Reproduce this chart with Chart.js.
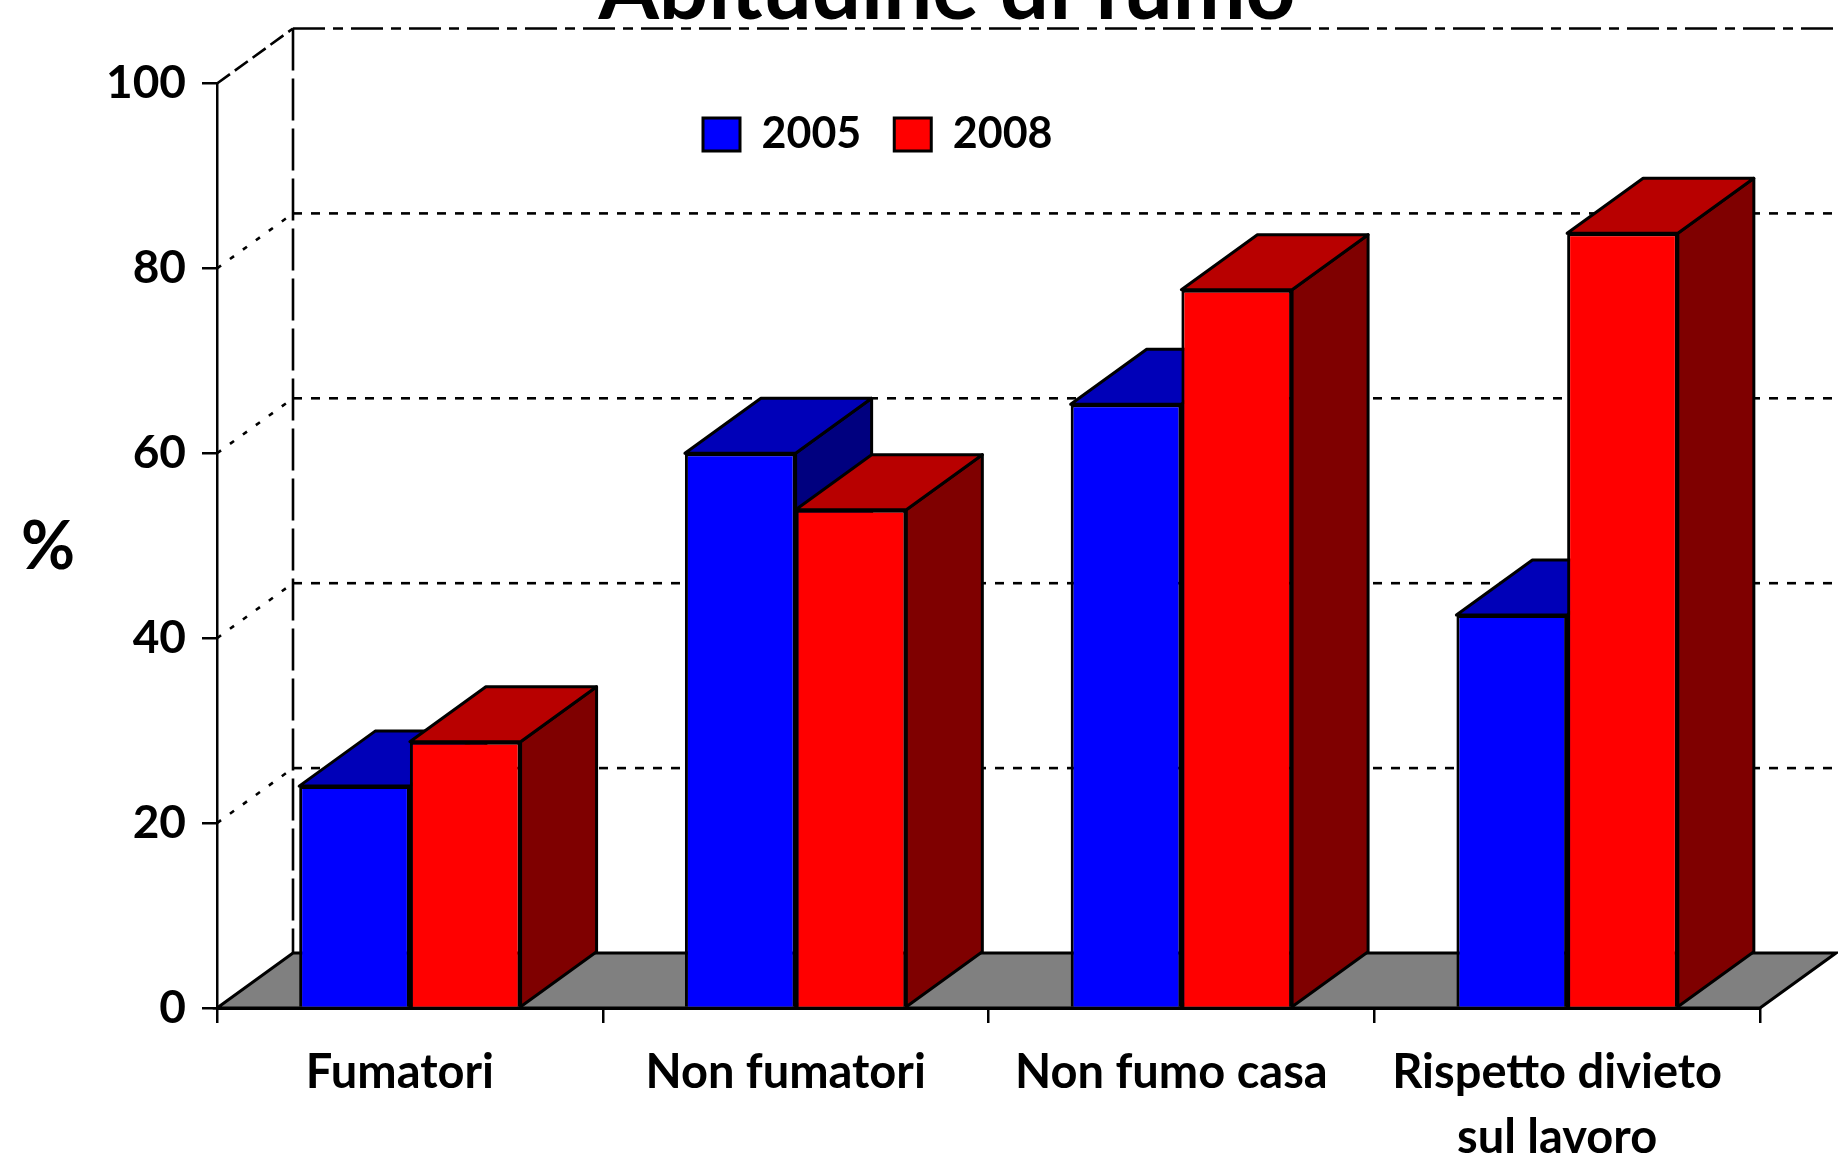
<!DOCTYPE html>
<html lang="it">
<head>
<meta charset="utf-8">
<title>Abitudine di fumo</title>
<script src="https://cdn.jsdelivr.net/npm/chart.js@4"></script>
<style>
  html, body { margin: 0; padding: 0; background: #fff; overflow: hidden; }
  canvas { display: block; }
</style>
</head>
<body>
<canvas id="chart" width="1838" height="1157"></canvas>
<script>
const titleText = 'Abitudine di fumo';
const yTitle = '%';
const categories = ['Fumatori', 'Non fumatori', 'Non fumo casa', ['Rispetto divieto', 'sul lavoro']];
const values2005 = [24, 60, 65.3, 42.5];
const values2008 = [28.8, 53.9, 77.7, 83.8];
const yTicks = [0, 20, 40, 60, 80, 100];

const FONT = 'Lato, "Open Sans", sans-serif';
const DEPTH_X = 76;
const DEPTH_Y = -55;
const INK = '#000';

function poly(ctx, pts, fill) {
  ctx.beginPath();
  pts.forEach((p, i) => (i ? ctx.lineTo(p[0], p[1]) : ctx.moveTo(p[0], p[1])));
  ctx.closePath();
  ctx.fillStyle = fill;
  ctx.fill();
  ctx.stroke();
}

function line(ctx, x1, y1, x2, y2, dash) {
  ctx.setLineDash(dash);
  ctx.beginPath();
  ctx.moveTo(x1, y1);
  ctx.lineTo(x2, y2);
  ctx.stroke();
  ctx.setLineDash([]);
}

const box3d = {
  id: 'box3d',
  afterLayout(chart) {
    // the legend floats inside the plot, so move it there once the layout is done
    const legend = chart.legend;
    const w = legend.width;
    const h = legend.height;
    legend.left = 670;
    legend.right = legend.left + w;
    legend.top = 80;
    legend.bottom = legend.top + h;
  },
  // back wall, floor and grid sit behind the bars
  beforeDatasetsDraw(chart) {
    const { ctx, scales, width } = chart;
    const { left, right } = chart.chartArea;
    const y0 = scales.y.getPixelForValue(0);
    const yTop = scales.y.getPixelForValue(100);
    ctx.save();
    ctx.strokeStyle = INK;
    ctx.lineWidth = 2.6;

    yTicks.filter(v => v > 0 && v < 100).forEach(v => {
      const y = scales.y.getPixelForValue(v);
      line(ctx, left, y, left + DEPTH_X, y + DEPTH_Y, [5, 11]);
      line(ctx, left + DEPTH_X, y + DEPTH_Y, width, y + DEPTH_Y, [9, 9]);
    });
    line(ctx, left, yTop, left + DEPTH_X, yTop + DEPTH_Y, [16, 6]);
    line(ctx, left + DEPTH_X, yTop + DEPTH_Y, width, yTop + DEPTH_Y, [32, 8, 10, 8]);
    line(ctx, left + DEPTH_X, yTop + DEPTH_Y, left + DEPTH_X, y0 + DEPTH_Y, [42, 8]);

    ctx.lineWidth = 3;
    poly(ctx, [[left, y0], [right, y0], [right + DEPTH_X, y0 + DEPTH_Y], [left + DEPTH_X, y0 + DEPTH_Y]], '#808080');
    ctx.restore();
  },
  // the default order would paint 2005 over 2008, skip it and paint below
  beforeDatasetDraw() {
    return false;
  },
  afterDatasetsDraw(chart) {
    const { ctx } = chart;
    chart.data.datasets.forEach((ds, i) => {
      const meta = chart.getDatasetMeta(i);
      ctx.save();
      ctx.strokeStyle = INK;
      ctx.lineWidth = 3;
      ctx.lineJoin = 'round';
      meta.data.forEach(bar => {
        const l = bar.x - bar.width / 2;
        const r = bar.x + bar.width / 2;
        poly(ctx, [[r, bar.y], [r + DEPTH_X, bar.y + DEPTH_Y], [r + DEPTH_X, bar.base + DEPTH_Y], [r, bar.base]], ds.sideColor);
        poly(ctx, [[l, bar.y], [r, bar.y], [r + DEPTH_X, bar.y + DEPTH_Y], [l + DEPTH_X, bar.y + DEPTH_Y]], ds.topColor);
      });
      ctx.restore();
      meta.data.forEach(bar => bar.draw(ctx));
    });
  },
  afterDraw(chart) {
    const { ctx } = chart;
    ctx.save();
    ctx.fillStyle = INK;
    ctx.textAlign = 'center';
    ctx.textBaseline = 'alphabetic';
    ctx.font = 'bold 87px ' + FONT;
    ctx.fillText(titleText, 947, 19);
    ctx.font = 'bold 66px ' + FONT;
    ctx.fillText(yTitle, 48, 569);
    ctx.restore();
  }
};

new Chart(document.getElementById('chart'), {
  type: 'bar',
  data: {
    labels: categories,
    datasets: [
      {
        label: '2005',
        data: values2005,
        backgroundColor: '#0000ff',
        topColor: '#0000b8',
        sideColor: '#00007f',
        borderColor: INK,
        borderWidth: 3
      },
      {
        label: '2008',
        data: values2008,
        backgroundColor: '#ff0000',
        topColor: '#b80000',
        sideColor: '#7f0000',
        borderColor: INK,
        borderWidth: 3
      }
    ]
  },
  options: {
    responsive: false,
    animation: false,
    devicePixelRatio: 1,
    categoryPercentage: 0.574,
    barPercentage: 1,
    layout: { padding: { top: -2.5, right: 78, left: 0, bottom: 0 } },
    plugins: {
      title: { display: false },
      tooltip: { enabled: false },
      legend: {
        display: true,
        position: 'top',
        align: 'start',
        labels: {
          boxWidth: 37,
          boxHeight: 33,
          padding: 33,
          color: INK,
          font: { family: FONT, size: 43, weight: 'bold' }
        }
      }
    },
    scales: {
      x: {
        afterFit(scale) { scale.height = 149; },
        border: { display: true, color: INK, width: 3 },
        grid: { drawOnChartArea: false, color: INK, lineWidth: 2.5, tickLength: 15, tickColor: INK },
        ticks: {
          color: INK,
          autoSkip: false,
          maxRotation: 0,
          labelOffset: -10,
          padding: 18,
          font: { family: FONT, size: 47, weight: 'bold', lineHeight: 1.37 }
        }
      },
      y: {
        min: 0,
        max: 100,
        afterFit(scale) { scale.width = 217; },
        border: { display: true, color: INK, width: 2.5 },
        grid: { drawOnChartArea: false, color: INK, lineWidth: 2.5, tickLength: 15, tickColor: INK },
        ticks: {
          stepSize: 20,
          color: INK,
          padding: 16,
          font: { family: FONT, size: 46, weight: 'bold' }
        }
      }
    }
  },
  plugins: [box3d]
});
</script>
</body>
</html>
